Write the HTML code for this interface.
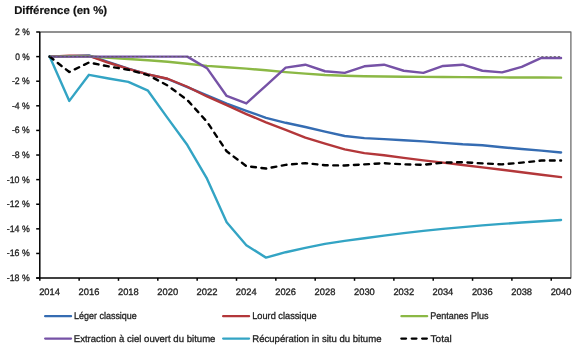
<!DOCTYPE html>
<html><head><meta charset="utf-8"><style>
html,body{margin:0;padding:0;background:#fff;}
svg{display:block;will-change:transform;}
text{font-family:"Liberation Sans",sans-serif;fill:#222;stroke:#222;stroke-width:0.3px;text-rendering:geometricPrecision;}
</style></head><body>
<svg width="580" height="348" viewBox="0 0 580 348">
<rect width="580" height="348" fill="#fff"/>
<g fill="none" stroke-linejoin="round" stroke-linecap="round">
<polyline points="39.8,32.0 570.9,32.0 570.9,278.05" stroke="#6e6e6e" stroke-width="1.3"/>
<polyline points="49.64,56.61 69.31,56.11 88.98,55.50 108.65,62.14 128.32,68.66 147.99,74.44 167.66,79.00 187.33,87.12 207.00,95.36 226.67,103.60 246.34,110.86 266.01,117.87 285.68,122.79 305.35,126.98 325.02,131.65 344.69,135.96 364.36,138.17 384.03,139.15 403.70,140.26 423.37,141.37 443.04,142.85 462.71,144.32 482.38,145.31 502.05,147.27 521.72,149.00 541.39,150.60 561.06,152.44" stroke="#356CB2" stroke-width="2.4"/>
<polyline points="49.64,56.61 69.31,55.74 88.98,55.99 108.65,62.76 128.32,68.91 147.99,74.44 167.66,78.75 187.33,86.75 207.00,96.47 226.67,105.20 246.34,114.06 266.01,122.42 285.68,129.80 305.35,137.68 325.02,143.58 344.69,149.37 364.36,153.18 384.03,155.27 403.70,157.85 423.37,160.32 443.04,162.65 462.71,164.99 482.38,167.33 502.05,169.79 521.72,172.25 541.39,174.71 561.06,177.17" stroke="#B3373A" stroke-width="2.4"/>
<polyline points="49.64,56.61 69.31,56.24 88.98,56.24 108.65,57.84 128.32,59.07 147.99,60.30 167.66,61.77 187.33,63.74 207.00,65.83 226.67,67.31 246.34,68.66 266.01,70.26 285.68,72.11 305.35,73.58 325.02,75.06 344.69,75.80 364.36,76.29 384.03,76.54 403.70,76.78 423.37,76.90 443.04,77.03 462.71,77.15 482.38,77.27 502.05,77.40 521.72,77.52 541.39,77.52 561.06,77.64" stroke="#8BB845" stroke-width="2.4"/>
<polyline points="49.64,56.61 69.31,56.61 88.98,56.61 108.65,56.61 128.32,56.61 147.99,56.61 167.66,56.61 187.33,56.61 207.00,68.17 226.67,95.97 246.34,103.48 266.01,85.52 285.68,67.68 305.35,64.72 325.02,71.24 344.69,72.84 364.36,66.32 384.03,64.72 403.70,70.75 423.37,72.84 443.04,65.95 462.71,64.72 482.38,70.75 502.05,72.35 521.72,66.94 541.39,57.96 561.06,57.96" stroke="#7652A6" stroke-width="2.4"/>
<polyline points="49.64,56.61 69.31,100.89 88.98,74.81 108.65,78.50 128.32,81.83 147.99,90.68 167.66,118.12 187.33,145.06 207.00,178.65 226.67,222.32 246.34,245.20 266.01,257.63 285.68,252.21 305.35,247.91 325.02,243.85 344.69,240.90 364.36,238.19 384.03,235.61 403.70,233.15 423.37,230.93 443.04,228.84 462.71,227.12 482.38,225.40 502.05,223.92 521.72,222.57 541.39,221.21 561.06,219.98" stroke="#33A4C4" stroke-width="2.4"/>
<polyline points="49.64,56.61 69.31,71.98 88.98,62.51 108.65,66.45 128.32,69.77 147.99,75.06 167.66,85.52 187.33,100.03 207.00,121.81 226.67,151.33 246.34,166.10 266.01,168.56 285.68,164.87 305.35,163.14 325.02,165.24 344.69,165.48 364.36,164.37 384.03,163.27 403.70,164.37 423.37,164.74 443.04,162.65 462.71,162.16 482.38,163.39 502.05,164.37 521.72,162.65 541.39,160.56 561.06,160.56" stroke="#000" stroke-width="2.4" stroke-dasharray="4.8 5.54"/>
<line x1="49.64" y1="56.61" x2="561.06" y2="56.61" stroke="#555" stroke-width="0.85" stroke-dasharray="2.1 2.035" stroke-dashoffset="0.35" stroke-linecap="butt"/>
</g>
<g stroke="#000" stroke-width="1.5" fill="none">
<line x1="39.8" y1="32.0" x2="39.8" y2="278.05"/>
<line x1="36.199999999999996" y1="278.05" x2="570.9" y2="278.05"/>
<line x1="36.2" y1="32.00" x2="39.8" y2="32.00"/><line x1="36.2" y1="56.61" x2="39.8" y2="56.61"/><line x1="36.2" y1="81.21" x2="39.8" y2="81.21"/><line x1="36.2" y1="105.81" x2="39.8" y2="105.81"/><line x1="36.2" y1="130.42" x2="39.8" y2="130.42"/><line x1="36.2" y1="155.03" x2="39.8" y2="155.03"/><line x1="36.2" y1="179.63" x2="39.8" y2="179.63"/><line x1="36.2" y1="204.23" x2="39.8" y2="204.23"/><line x1="36.2" y1="228.84" x2="39.8" y2="228.84"/><line x1="36.2" y1="253.45" x2="39.8" y2="253.45"/><line x1="36.2" y1="278.05" x2="39.8" y2="278.05"/>
<line x1="39.80" y1="278.05" x2="39.80" y2="280.8"/><line x1="79.14" y1="278.05" x2="79.14" y2="280.8"/><line x1="118.48" y1="278.05" x2="118.48" y2="280.8"/><line x1="157.82" y1="278.05" x2="157.82" y2="280.8"/><line x1="197.16" y1="278.05" x2="197.16" y2="280.8"/><line x1="236.50" y1="278.05" x2="236.50" y2="280.8"/><line x1="275.84" y1="278.05" x2="275.84" y2="280.8"/><line x1="315.19" y1="278.05" x2="315.19" y2="280.8"/><line x1="354.53" y1="278.05" x2="354.53" y2="280.8"/><line x1="393.87" y1="278.05" x2="393.87" y2="280.8"/><line x1="433.21" y1="278.05" x2="433.21" y2="280.8"/><line x1="472.55" y1="278.05" x2="472.55" y2="280.8"/><line x1="511.89" y1="278.05" x2="511.89" y2="280.8"/><line x1="551.23" y1="278.05" x2="551.23" y2="280.8"/>
</g>
<g fill="none" stroke-width="2.3" stroke-linecap="round">
<line x1="45.15" y1="316.2" x2="71.05" y2="316.2" stroke="#356CB2"/>
<line x1="223.15" y1="316.2" x2="249.05" y2="316.2" stroke="#B3373A"/>
<line x1="401.45" y1="316.2" x2="427.15" y2="316.2" stroke="#8BB845"/>
<line x1="45.15" y1="338.6" x2="71.05" y2="338.6" stroke="#7652A6"/>
<line x1="223.15" y1="338.6" x2="249.05" y2="338.6" stroke="#33A4C4"/>
<line x1="401.35" y1="338.6" x2="427.0" y2="338.6" stroke="#000" stroke-dasharray="4.7 5.7"/>
</g>
<g>
<text x="14.15" y="14.10" font-size="11.2" font-weight="bold" style="fill:#111;stroke:#111;stroke-width:0.2px" textLength="92.90" lengthAdjust="spacingAndGlyphs">Différence (en %)</text>
<text x="15.00" y="35.00" font-size="9.3" textLength="14.75" lengthAdjust="spacingAndGlyphs">2 %</text>
<text x="15.25" y="59.61" font-size="9.3" textLength="14.50" lengthAdjust="spacingAndGlyphs">0 %</text>
<text x="11.90" y="84.21" font-size="9.3" textLength="17.85" lengthAdjust="spacingAndGlyphs">-2 %</text>
<text x="11.90" y="108.81" font-size="9.3" textLength="17.85" lengthAdjust="spacingAndGlyphs">-4 %</text>
<text x="11.90" y="133.42" font-size="9.3" textLength="17.85" lengthAdjust="spacingAndGlyphs">-6 %</text>
<text x="11.90" y="158.03" font-size="9.3" textLength="17.85" lengthAdjust="spacingAndGlyphs">-8 %</text>
<text x="6.70" y="182.63" font-size="9.3" textLength="23.05" lengthAdjust="spacingAndGlyphs">-10 %</text>
<text x="6.70" y="207.23" font-size="9.3" textLength="23.05" lengthAdjust="spacingAndGlyphs">-12 %</text>
<text x="6.70" y="231.84" font-size="9.3" textLength="23.05" lengthAdjust="spacingAndGlyphs">-14 %</text>
<text x="6.70" y="256.45" font-size="9.3" textLength="23.05" lengthAdjust="spacingAndGlyphs">-16 %</text>
<text x="6.70" y="281.05" font-size="9.3" textLength="23.05" lengthAdjust="spacingAndGlyphs">-18 %</text>
<text x="39.20" y="294.80" font-size="9.3" textLength="20.75" lengthAdjust="spacingAndGlyphs">2014</text>
<text x="78.58" y="294.80" font-size="9.3" textLength="20.75" lengthAdjust="spacingAndGlyphs">2016</text>
<text x="117.97" y="294.80" font-size="9.3" textLength="20.75" lengthAdjust="spacingAndGlyphs">2018</text>
<text x="157.35" y="294.80" font-size="9.3" textLength="20.75" lengthAdjust="spacingAndGlyphs">2020</text>
<text x="196.49" y="294.80" font-size="9.3" textLength="21.00" lengthAdjust="spacingAndGlyphs">2022</text>
<text x="235.87" y="294.80" font-size="9.3" textLength="20.75" lengthAdjust="spacingAndGlyphs">2024</text>
<text x="275.26" y="294.80" font-size="9.3" textLength="20.75" lengthAdjust="spacingAndGlyphs">2026</text>
<text x="314.64" y="294.80" font-size="9.3" textLength="20.75" lengthAdjust="spacingAndGlyphs">2028</text>
<text x="354.03" y="294.80" font-size="9.3" textLength="20.75" lengthAdjust="spacingAndGlyphs">2030</text>
<text x="393.41" y="294.80" font-size="9.3" textLength="20.75" lengthAdjust="spacingAndGlyphs">2032</text>
<text x="432.55" y="294.80" font-size="9.3" textLength="20.75" lengthAdjust="spacingAndGlyphs">2034</text>
<text x="471.93" y="294.80" font-size="9.3" textLength="20.75" lengthAdjust="spacingAndGlyphs">2036</text>
<text x="511.32" y="294.80" font-size="9.3" textLength="20.75" lengthAdjust="spacingAndGlyphs">2038</text>
<text x="550.70" y="294.80" font-size="9.3" textLength="20.75" lengthAdjust="spacingAndGlyphs">2040</text>
<text x="74.10" y="319.30" font-size="9.7" textLength="62.70" lengthAdjust="spacingAndGlyphs">Léger classique</text>
<text x="252.25" y="319.30" font-size="9.7" textLength="64.50" lengthAdjust="spacingAndGlyphs">Lourd classique</text>
<text x="430.25" y="319.30" font-size="9.7" textLength="58.20" lengthAdjust="spacingAndGlyphs">Pentanes Plus</text>
<text x="73.75" y="341.70" font-size="9.7" textLength="141.70" lengthAdjust="spacingAndGlyphs">Extraction à ciel ouvert du bitume</text>
<text x="252.25" y="341.70" font-size="9.7" textLength="129.20" lengthAdjust="spacingAndGlyphs">Récupération in situ du bitume</text>
<text x="430.60" y="341.70" font-size="9.7" textLength="21.10" lengthAdjust="spacingAndGlyphs">Total</text>
</g>
</svg>
</body></html>
